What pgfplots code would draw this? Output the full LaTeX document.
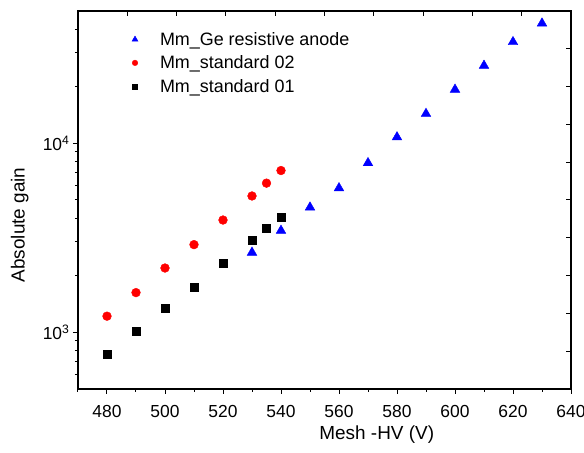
\documentclass[border=0pt]{standalone}
\usepackage{fontspec}
\setmainfont{Liberation Sans}
\usepackage{pgfplots}
\pgfplotsset{compat=1.18}
\pgfplotsset{myleg/.style={legend image code/.code={\path[draw=none,fill=none] (0bp,-2bp) rectangle (29bp,2bp); \draw[##1] plot coordinates {(6bp,0bp)};}}}
\begin{document}
\begin{tikzpicture}
\begin{axis}[
  scale only axis, width=493bp, height=378bp,
  xmin=470, xmax=640, ymode=log, ymin=500, ymax=50000,
  axis line style={line width=1.1bp},
  xtick={480,500,...,640}, minor xtick={470,490,...,630},
  ytick={1000,10000}, yticklabels={10\textsuperscript{3},10\textsuperscript{4}},
  minor ytick={600,700,800,900,2000,3000,4000,5000,6000,7000,8000,9000,20000,30000,40000},
  xtick pos=left, ytick pos=left,
  tick align=outside,
  major tick length=5bp, minor tick length=3bp,
  every tick/.style={black, line width=1bp},
  /pgf/number format/assume math mode=true,
  /pgf/number format/1000 sep={},
  ticklabel style={font=\fontsize{17.5}{20}\selectfont},
  xticklabel style={yshift=-8bp},
  xlabel={Mesh -HV (V)}, ylabel={Absolute gain},
  label style={font=\fontsize{19}{22}\selectfont},
  xlabel style={at={(axis description cs:0.606,-0.134)}, anchor=base},
  ylabel style={at={(axis description cs:-0.118,0.434)}, anchor=center},
  legend style={draw=none, fill=none, at={(axis description cs:0.097,0.955)}, anchor=north west,
    font=\fontsize{18}{22}\selectfont, row sep=5bp},
  legend cell align=left,
  clip=false,
]
\addplot[only marks, mark=triangle*, mark size=5.6bp, color=blue, myleg,
  legend image post style={mark size=3.4bp}] coordinates {
(530,2636) (540,3442) (550,4570) (560,5780) (570,7850) (580,10750)
(590,14300) (600,19200) (610,25700) (620,34300) (630,43000)
};
\addlegendentry{Mm\_Ge resistive anode}
\addplot[only marks, mark=*, mark size=4.4bp, color=red, myleg,
  legend image post style={mark size=2.8bp}] coordinates {
(480,1214) (490,1618) (500,2183) (510,2903) (520,3917) (530,5250) (535,6140) (540,7160)
};
\addlegendentry{Mm\_standard 02}
\addplot[only marks, mark=square*, mark size=4bp, color=black, myleg,
  legend image post style={mark size=2.6bp}] coordinates {
(480,761) (490,1008) (500,1337) (510,1734) (520,2318) (530,3078) (535,3556) (540,4063)
};
\addlegendentry{Mm\_standard 01}
\end{axis}
\begin{axis}[
  scale only axis, width=493bp, height=378bp,
  xmin=470, xmax=640, ymode=log, ymin=500, ymax=50000,
  axis line style={line width=1.1bp},
  xtick={487,504,...,623}, xticklabels={},
  ytick={792,1256,1991,3155,5000,7924,12559,19905,31548}, yticklabels={},
  minor tick num=0,
  xtick pos=right, ytick pos=right,
  tick align=inside,
  major tick length=5bp,
  every tick/.style={black, line width=1bp},
]
\end{axis}
\pgfresetboundingbox
\path (current axis.south west) ++(-78bp,-64bp) coordinate (bl);
\path (current axis.north east) ++(13bp,11bp) coordinate (tr);
\path (bl) rectangle (tr);
\end{tikzpicture}
\end{document}
